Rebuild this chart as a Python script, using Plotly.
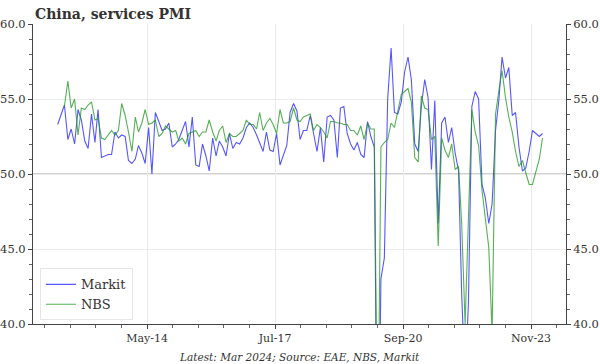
import plotly.graph_objects as go
import pandas as pd

# ---------------- data ----------------
dates = pd.date_range("2012-03-01", "2024-03-01", freq="MS")

markit = [
    53.3, 54.0, 54.6, 52.3, 53.0, 52.0, 54.3, 53.6, 52.2, 51.7,                      # 2012 Mar-Dec
    54.0, 52.1, 54.3, 51.1, 51.2, 51.3, 51.3, 52.8, 52.4, 52.6, 52.5, 50.9,          # 2013
    50.7, 51.0, 51.9, 51.4, 50.7, 53.1, 50.0, 54.1, 53.5, 52.9, 53.0, 53.4,          # 2014
    51.8, 52.0, 52.3, 52.9, 53.5, 51.8, 53.8, 50.6, 50.5, 52.0, 51.2, 50.2,          # 2015
    52.4, 51.2, 52.2, 51.8, 51.2, 52.7, 51.7, 52.1, 52.0, 52.4, 53.1, 53.4,          # 2016
    53.1, 52.6, 52.1, 51.5, 52.8, 51.6, 51.5, 52.7, 50.6, 51.2, 51.9, 54.1,          # 2017
    54.7, 54.2, 52.3, 52.9, 52.9, 53.9, 52.8, 51.5, 53.1, 50.8, 53.8, 53.9,          # 2018
    53.6, 51.1, 54.4, 54.5, 52.7, 52.0, 51.6, 52.1, 51.3, 51.1, 53.5, 52.5,          # 2019
    51.8, 26.5, 43.0, 44.4, 55.0, 58.4, 54.1, 54.0, 54.8, 56.8, 57.8, 56.3,          # 2020
    52.0, 51.5, 54.5, 56.3, 55.1, 50.3, 54.9, 46.7, 53.4, 53.8, 52.1, 53.1,          # 2021
    51.4, 50.2, 42.0, 36.2, 41.4, 54.5, 55.5, 55.0, 49.3, 48.4, 46.7, 48.0,          # 2022
    52.9, 55.0, 57.8, 56.4, 57.1, 53.9, 54.1, 51.8, 50.2, 50.4, 51.5, 52.9,          # 2023
    52.7, 52.5, 52.7,                                                                # 2024
]

nbs = [
    None, None, 54.5, 56.2, 54.4, 55.0, 52.6, 54.4, 54.3, 54.6,                      # 2012 Mar-Dec
    54.8, 53.6, 53.7, 52.4, 52.3, 52.6, 52.9, 52.6, 52.9, 54.7, 53.9, 52.8,          # 2013
    51.5, 53.8, 52.8, 53.4, 54.3, 53.3, 53.4, 53.6, 52.5, 52.7, 53.2, 53.0,          # 2014
    52.8, 52.9, 52.2, 52.4, 52.0, 52.7, 52.8, 52.9, 52.5, 52.8, 52.8, 53.6,          # 2015
    52.8, 52.2, 52.9, 53.2, 52.1, 52.7, 52.5, 52.5, 52.7, 52.9, 53.6, 53.3,          # 2016
    53.3, 53.0, 54.1, 52.9, 53.4, 53.7, 53.3, 52.7, 54.3, 53.4, 53.4, 53.5,          # 2017
    54.4, 53.6, 53.5, 53.8, 53.9, 54.0, 52.9, 53.3, 53.1, 52.8, 52.4, 53.5,          # 2018
    53.5, 53.4, 53.4, 53.3, 53.3, 52.9, 52.9, 52.6, 53.2, 52.3, 53.4, 53.0,          # 2019
    53.0, 30.1, 51.8, 52.1, 52.3, 53.4, 53.1, 54.2, 55.3, 55.5, 55.7, 54.8,          # 2020
    51.1, 50.8, 55.2, 54.4, 54.3, 52.3, 52.5, 45.2, 52.4, 51.6, 51.1, 52.0,          # 2021
    50.3, 50.5, 46.7, 40.0, 47.1, 54.3, 52.8, 51.9, 48.9, 47.0, 45.1, 39.4,          # 2022
    54.0, 55.6, 56.9, 55.1, 53.8, 52.8, 51.5, 50.5, 50.9, 50.1, 49.3, 49.3,          # 2023
    50.1, 51.0, 52.4,                                                                # 2024
]

tick_labels = ["May-14", "Jul-17", "Sep-20", "Nov-23"]

# ---------------- axis ticks (styling) ----------------
FONT = "DejaVu Serif"
major = [pd.Timestamp("2011-03-18") + pd.DateOffset(months=38 * k) for k in range(6)]
major_vals = [d for d in major if d.strftime("%b-%y") in tick_labels]
minor_vals = []
for a, b in zip(major[:-1], major[1:]):
    for j in range(1, 5):
        minor_vals.append(a + (b - a) * j / 5)

fig = go.Figure()
fig.add_trace(go.Scatter(
    x=dates, y=markit, name="Markit", mode="lines",
    line=dict(color="rgba(30,30,255,0.75)", width=1.1),
))
fig.add_trace(go.Scatter(
    x=dates, y=nbs, name="NBS", mode="lines", yaxis="y2",
    line=dict(color="rgba(30,150,30,0.75)", width=1.1),
))

fig.add_hline(y=50, line_color="#a0a0a0", line_width=1, layer="below")

yaxis_common = dict(
    range=[40, 60], dtick=5, tick0=40, tickformat=".1f",
    ticks="outside", ticklen=4, tickcolor="#444", tickwidth=1,
    showline=True, linecolor="#444", linewidth=1,
    tickfont=dict(family=FONT, size=11.5, color="#333"),
    minor=dict(dtick=1, ticks="outside", ticklen=3, tickcolor="#666", showgrid=False),
    zeroline=False, fixedrange=True, automargin=False,
)

fig.update_layout(
    width=600, height=364,
    margin=dict(l=33, r=34, t=24, b=40, autoexpand=False),
    paper_bgcolor="white", plot_bgcolor="white",
    title=dict(text="<b>China, services PMI</b>", x=35 / 600, xanchor="left", xref="container",
               y=0.975, yanchor="top", yref="container",
               font=dict(family=FONT, size=14, color="#333")),
    xaxis=dict(
        type="date", range=["2011-07-22", "2024-09-29"],
        tickmode="array", tickvals=major_vals, ticktext=tick_labels,
        ticks="outside", ticklen=4, tickcolor="#444",
        showline=True, linecolor="#444", linewidth=1,
        showgrid=True, gridcolor="#ebebeb", gridwidth=1,
        tickfont=dict(family=FONT, size=11, color="#333"),
        minor=dict(tickmode="array", tickvals=minor_vals, ticks="outside", ticklen=3,
                   tickcolor="#666", showgrid=False),
        zeroline=False, fixedrange=True, automargin=False,
    ),
    yaxis=dict(side="left", showgrid=True, gridcolor="#ebebeb", **yaxis_common),
    yaxis2=dict(side="right", overlaying="y", showgrid=False, **yaxis_common),
    legend=dict(x=0.013, y=0.012, xanchor="left", yanchor="bottom",
                bgcolor="white", bordercolor="#e6e6e6", borderwidth=1,
                font=dict(family=FONT, size=13, color="#333"),
                tracegroupgap=0),
    showlegend=True,
    annotations=[dict(
        text="<i>Latest: Mar 2024; Source: EAE, NBS, Markit</i>",
        x=0.5, xref="paper", y=-0.083, yref="paper", xanchor="center", yanchor="top",
        showarrow=False, font=dict(family=FONT, size=10.5, color="#333"),
    )],
)

fig.write_html("out.html", config={"displayModeBar": False},
               post_script="document.body.style.margin='0px';")
